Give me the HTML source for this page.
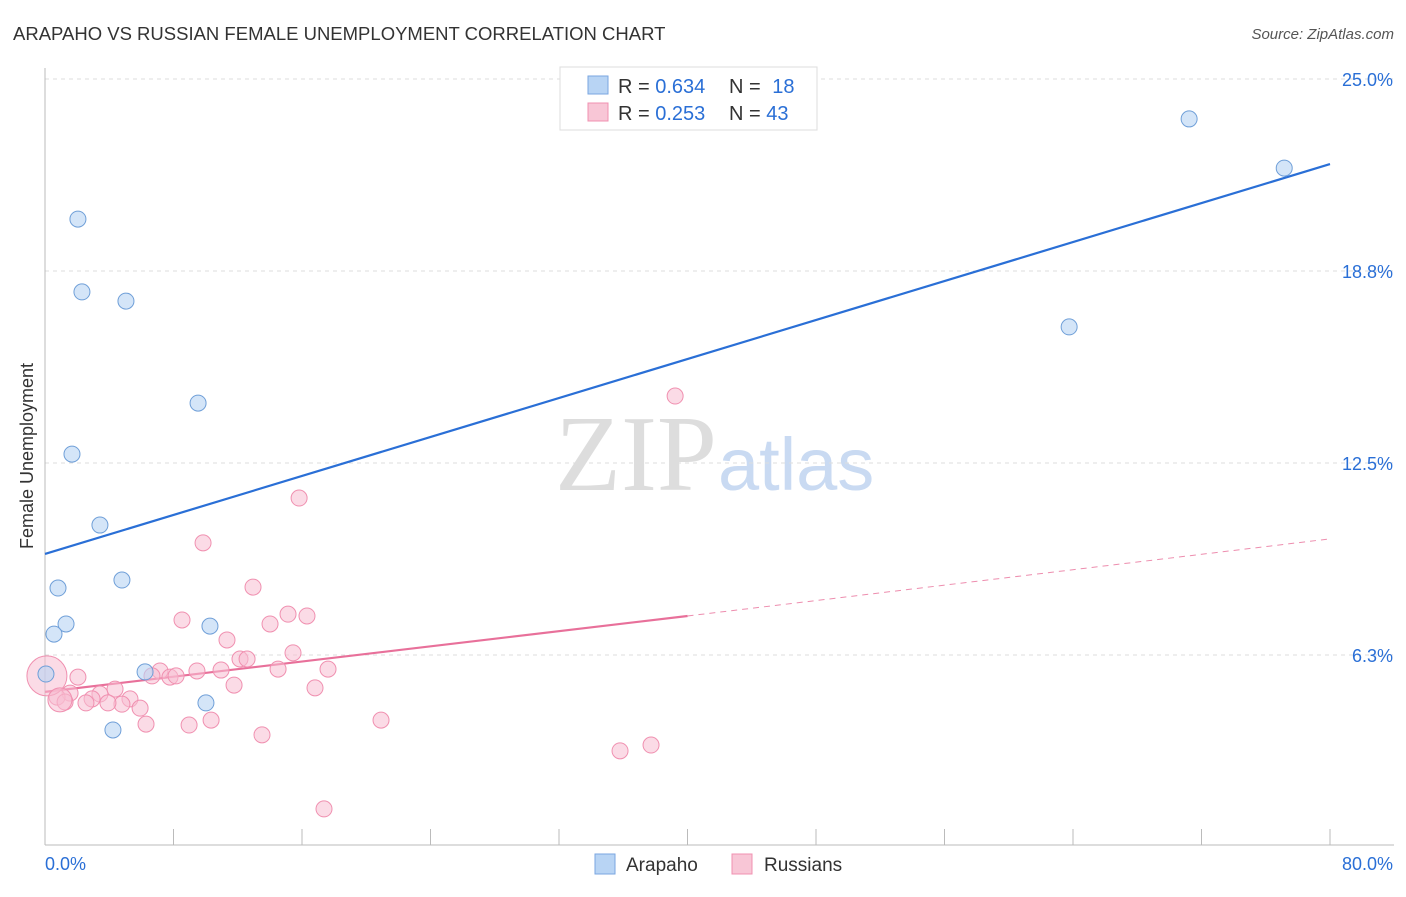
<!DOCTYPE html>
<html><head><meta charset="utf-8"><style>
body{margin:0;background:#fff;font-family:"Liberation Sans",sans-serif}
svg text{font-family:"Liberation Sans",sans-serif}
</style></head><body>
<svg id="c" width="1406" height="892" xmlns="http://www.w3.org/2000/svg">
<text x="13" y="40" font-size="18.5" fill="#333">ARAPAHO VS RUSSIAN FEMALE UNEMPLOYMENT CORRELATION CHART</text>
<text x="1394" y="39" font-size="15" fill="#555" text-anchor="end" font-style="italic">Source: ZipAtlas.com</text>
<text x="555" y="490" font-size="108" fill="#ddd" style="font-family:'Liberation Serif',serif">ZIP</text>
<text x="718" y="490" font-size="74" fill="#c9daf2">atlas</text>
<g id="grid"></g>
<g id="axes"></g>
<g id="lines"></g>
<g id="pts"></g>
<text transform="translate(33,456) rotate(-90)" font-size="18" fill="#333" text-anchor="middle">Female Unemployment</text>
<g>
<rect x="560" y="67" width="257" height="63" fill="#fff" stroke="#ddd"/>
<rect x="588" y="76" width="20" height="18" fill="#b8d4f4" stroke="#7aa6e0"/>
<rect x="588" y="103" width="20" height="18" fill="#f8c6d6" stroke="#f090b0"/>
<text x="618" y="93" font-size="20" fill="#333">R = <tspan fill="#2a6fd6">0.634</tspan></text>
<text x="729" y="93" font-size="20" fill="#333">N = <tspan fill="#2a6fd6" dx="6">18</tspan></text>
<text x="618" y="120" font-size="20" fill="#333">R = <tspan fill="#2a6fd6">0.253</tspan></text>
<text x="729" y="120" font-size="20" fill="#333">N = <tspan fill="#2a6fd6">43</tspan></text>
</g>
<g>
<rect x="595" y="854" width="20" height="20" fill="#b8d4f4" stroke="#7aa6e0"/>
<text x="626" y="871" font-size="19" fill="#333">Arapaho</text>
<rect x="732" y="854" width="20" height="20" fill="#f8c6d6" stroke="#f090b0"/>
<text x="764" y="871" font-size="19" fill="#333">Russians</text>
</g>
</svg>
<script>
const yTicks=[6.25,12.5,18.75,25];
const yTickLabels=["6.3%","12.5%","18.8%","25.0%"];
const xTickCount=10;
const blueX=[2.05,2.30,5.04,9.53,1.68,3.42,4.79,0.81,1.31,0.56,10.27,0.06,6.23,10.02,4.23,71.23,77.15,63.76];
const blueY=[20.44,18.07,17.77,14.45,12.79,10.48,8.69,8.43,7.26,6.93,7.19,5.63,5.70,4.69,3.81,23.70,22.10,16.93];
const pinkX=[39.23,15.82,9.84,12.95,8.53,15.13,16.31,14.01,11.33,12.14,12.58,15.44,7.16,6.66,7.78,8.16,9.46,10.96,14.51,17.62,2.05,11.77,16.81,4.36,3.42,1.56,0.75,2.93,5.29,4.79,5.92,3.92,2.55,1.25,6.29,8.97,10.34,20.92,13.51,35.80,37.73,17.37,0.12,0.93];
const pinkY=[14.68,11.36,9.90,8.46,7.39,7.58,7.52,7.26,6.74,6.12,6.12,6.32,5.73,5.57,5.53,5.57,5.73,5.76,5.79,5.79,5.53,5.27,5.18,5.14,4.98,5.01,4.88,4.82,4.82,4.65,4.52,4.69,4.69,4.72,4.00,3.97,4.13,4.13,3.65,3.13,3.32,1.24,5.57,4.79];
const pinkR=[8,8,8,8,8,8,8,8,8,8,8,8,8,8,8,8,8,8,8,8,8,8,8,8,8,8,8,8,8,8,8,8,8,8,8,8,8,8,8,8,8,8,20,12];
const blueLine=[[0,9.54],[80,22.23]];
const pinkLine=[[0,5.05],[40,7.52],[80,10.03]];
const X=v=>45+v*(1330-45)/80;
const Y=v=>847-v*30.72;
const NS="http://www.w3.org/2000/svg";
function mk(t,a,p){const e=document.createElementNS(NS,t);for(const k in a)e.setAttribute(k,a[k]);document.querySelector(p).appendChild(e);return e;}
yTicks.forEach((t,i)=>{
 const g=mk('line',{x1:45,x2:1394,y1:Y(t),y2:Y(t),stroke:'#ddd','stroke-dasharray':'4,4'},'#grid');
 
 
 const l=mk('text',{x:1393,y:Y(t)+7,'font-size':18,fill:'#2a6fd6','text-anchor':'end'},'#grid');
 l.textContent=yTickLabels[i];
 
 
});
const ax=mk('line',{x1:45,x2:45,y1:68,y2:845,stroke:'#bbb'},'#axes');


const bx=mk('line',{x1:45,x2:1394,y1:845,y2:845,stroke:'#bbb'},'#axes');


for(let i=0;i<=xTickCount;i++){const v=80*i/xTickCount;
 const t=mk('line',{x1:X(v),x2:X(v),y1:829,y2:845,stroke:'#bbb'},'#axes');
 
 }
const x0=mk('text',{x:45,y:870,'font-size':18,fill:'#2a6fd6'},'#axes');x0.textContent='0.0%';


const x1=mk('text',{x:1393,y:870,'font-size':18,fill:'#2a6fd6','text-anchor':'end'},'#axes');x1.textContent='80.0%';


pinkX.forEach((v,i)=>{const c=mk('circle',{cx:X(v),cy:Y(pinkY[i]),r:pinkR[i],fill:'rgba(248,190,210,0.55)',stroke:'#f090b0','stroke-width':1},'#pts');
 
 });
blueX.forEach((v,i)=>{const c=mk('circle',{cx:X(v),cy:Y(blueY[i]),r:8,fill:'rgba(184,212,244,0.6)',stroke:'#6f9fd8','stroke-width':1},'#pts');
 
 });
const bl=mk('line',{x1:X(blueLine[0][0]),y1:Y(blueLine[0][1]),x2:X(blueLine[1][0]),y2:Y(blueLine[1][1]),stroke:'#2a6fd6','stroke-width':2.2},'#lines');


const pl=mk('line',{x1:X(pinkLine[0][0]),y1:Y(pinkLine[0][1]),x2:X(pinkLine[1][0]),y2:Y(pinkLine[1][1]),stroke:'#e8709a','stroke-width':2.2},'#lines');


const pd=mk('line',{x1:X(pinkLine[1][0]),y1:Y(pinkLine[1][1]),x2:X(pinkLine[2][0]),y2:Y(pinkLine[2][1]),stroke:'#e8709a','stroke-width':1,'stroke-dasharray':'6,5','stroke-opacity':0.8},'#lines');


</script>
</body></html>
